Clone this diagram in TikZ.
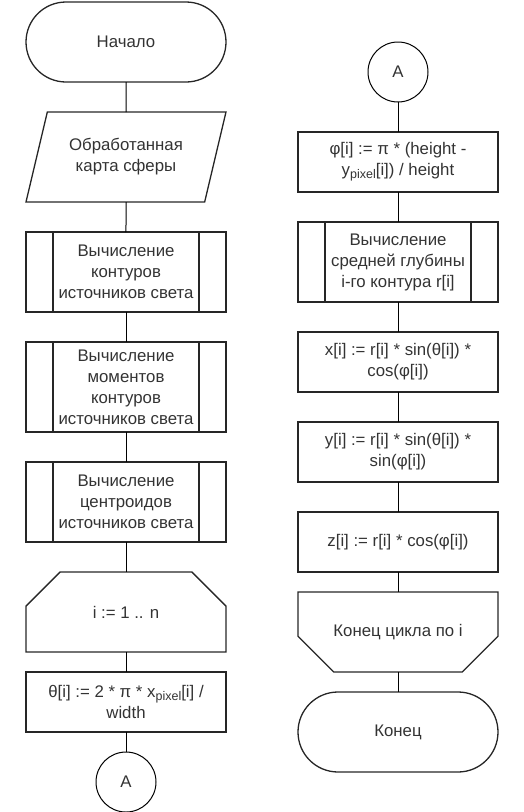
\documentclass[tikz,border=0pt]{standalone}
\usepackage{fontspec}
\setmainfont{Liberation Sans}
\usetikzlibrary{positioning, shapes.geometric, shapes.misc}
\newcommand{\pixsub}{\raisebox{-0.3ex}{\fontsize{12.5}{12}\selectfont pixel}}

\begin{document}
\begin{tikzpicture}[node distance=30pt, x=1pt, y=1pt]
  \tikzset{
    base/.style={draw=black!85, line width=1.3pt, text=black!80,
                 minimum width=200pt, align=center, inner sep=2pt, outer sep=0pt,
                 font=\fontsize{16.8}{21}\selectfont},
    term/.style={base, rectangle, rounded corners=40pt, minimum height=80pt},
    iobox/.style={base, trapezium, trapezium left angle=62.4,
                  trapezium right angle=117.6, trapezium stretches body,
                  minimum height=90pt},
    proc/.style={base, rectangle, minimum height=60pt},
    subproc/.style={proc, minimum height=80pt,
                    path picture={
                      \draw[line width=1.3pt, draw=black!85]
                        ([xshift=27pt]path picture bounding box.north west) --
                        ([xshift=27pt]path picture bounding box.south west)
                        ([xshift=-27pt]path picture bounding box.north east) --
                        ([xshift=-27pt]path picture bounding box.south east);}},
    loopstart/.style={base, chamfered rectangle,
                      chamfered rectangle corners={north west, north east},
                      chamfered rectangle xsep=39pt, chamfered rectangle ysep=26pt,
                      minimum height=80pt},
    loopend/.style={base, chamfered rectangle,
                    chamfered rectangle corners={south west, south east},
                    chamfered rectangle xsep=39pt, chamfered rectangle ysep=26pt,
                    minimum height=80pt},
    conn/.style={base, circle, line width=1pt, draw=black,
                 minimum width=60pt, minimum height=60pt},
    link/.style={draw=black, line width=1pt}
  }
  \useasboundingbox (0,0) rectangle (524,-812);
  \node[term] (start) at (126,-42) {Начало};
  \node[iobox, below=of start] (map) {Обработанная\\карта сферы};
  \node[subproc, below=of map] (cont) {Вычисление\\контуров\\источников света};
  \node[subproc, below=of cont, minimum height=90pt] (mom)
       {Вычисление\\моментов\\контуров\\источников света};
  \node[subproc, below=of mom] (cent) {Вычисление\\центроидов\\источников света};
  \node[loopstart, below=of cent] (loop) {i := 1 .. n};
  \node[proc, below=20pt of loop] (theta)
       {θ[i] := 2 * π * x\pixsub[i] /\\width};
  \node[conn, below=20pt of theta] (offA) {A};

  \node[conn] (onA) at (398,-72) {A};
  \node[proc, below=of onA] (phi)
       {φ[i] := π * (height -\\y\pixsub[i]) / height};
  \node[subproc, below=of phi] (depth) {Вычисление\\средней глубины\\i-го контура r[i]};
  \node[proc, below=of depth] (xc) {x[i] := r[i] * sin(θ[i]) *\\cos(φ[i])};
  \node[proc, below=of xc] (yc) {y[i] := r[i] * sin(θ[i]) *\\sin(φ[i])};
  \node[proc, below=of yc] (zc) {z[i] := r[i] * cos(φ[i])};
  \node[loopend, below=20pt of zc] (lend) {Конец цикла по i};
  \node[term, below=20pt of lend] (finish) {Конец};

  \foreach \a/\b in {start/map,map/cont,cont/mom,mom/cent,cent/loop,loop/theta,
                     theta/offA,onA/phi,phi/depth,depth/xc,xc/yc,yc/zc,zc/lend,
                     lend/finish}
    \draw[link] (\a) -- (\b);
\end{tikzpicture}
\end{document}
